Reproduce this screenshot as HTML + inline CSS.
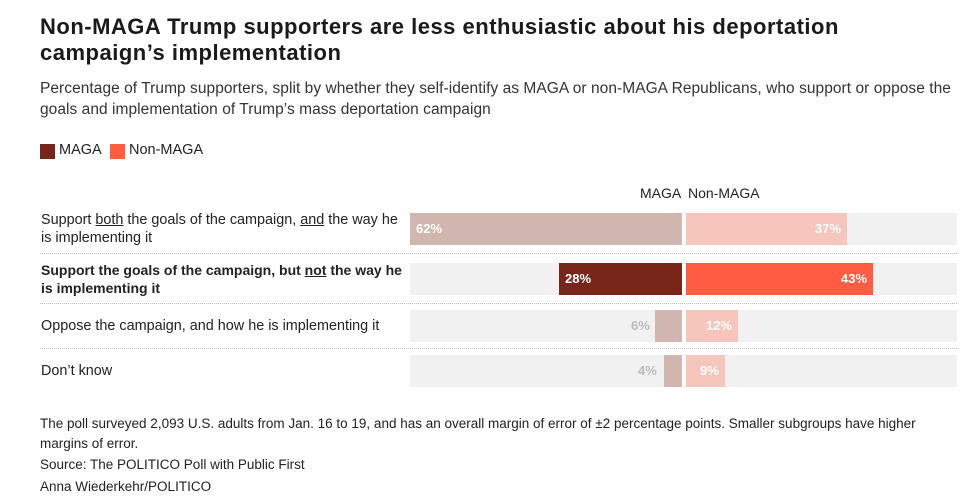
<!DOCTYPE html>
<html><head><meta charset="utf-8"><style>
body{margin:0;background:#fff;font-family:"Liberation Sans",sans-serif;color:#222;width:972px;height:500px;overflow:hidden;position:relative}
.a{position:absolute;white-space:nowrap}
h1{position:absolute;left:40px;top:14px;margin:0;font-size:22px;line-height:26px;font-weight:bold;color:#1a1a1a;letter-spacing:0.5px}
.sub{left:40px;top:78px;font-size:15.5px;line-height:21px;color:#333;letter-spacing:0.05px}
.lg{width:15px;height:15px;top:144px}
.lab{font-size:14.4px;line-height:18px;color:#222;left:41px}
.tr{position:absolute;background:#f1f1f1;height:32px}
.b{position:absolute;height:32px}
.v{position:absolute;font-size:13px;font-weight:bold;line-height:32px;color:#fff}
.dot{position:absolute;left:40px;width:917px;border-top:1px dotted #bbb;height:0}
.ft{left:40px;font-size:13.5px;line-height:20px;color:#222}
</style></head><body>
<h1>Non-MAGA Trump supporters are less enthusiastic about his deportation<br>campaign’s implementation</h1>
<div class="a sub">Percentage of Trump supporters, split by whether they self-identify as MAGA or non-MAGA Republicans, who support or oppose the<br>goals and implementation of Trump’s mass deportation campaign</div>
<div class="a lg" style="left:40px;background:#79261a"></div>
<div class="a" style="left:59px;top:142px;font-size:14.5px">MAGA</div>
<div class="a lg" style="left:110px;background:#ff5c42"></div>
<div class="a" style="left:129px;top:142px;font-size:14.5px">Non-MAGA</div>
<div class="a" style="left:640px;top:185px;font-size:14px">MAGA</div>
<div class="a" style="left:688px;top:185px;font-size:14px">Non-MAGA</div>

<div class="a lab" style="top:211px">Support <u>both</u> the goals of the campaign, <u>and</u> the way he<br>is implementing it</div>
<div class="a lab" style="top:261px;font-weight:bold;font-size:14px">Support the goals of the campaign, but <u>not</u> the way he<br>is implementing it</div>
<div class="a lab" style="top:317px">Oppose the campaign, and how he is implementing it</div>
<div class="a lab" style="top:362px">Don’t know</div>
<div class="dot" style="top:253px"></div>
<div class="dot" style="top:303px"></div>
<div class="dot" style="top:348px"></div>

<div class="tr" style="left:410px;width:272px;top:213px"></div><div class="tr" style="left:686px;width:271px;top:213px"></div>
<div class="tr" style="left:410px;width:272px;top:263px"></div><div class="tr" style="left:686px;width:271px;top:263px"></div>
<div class="tr" style="left:410px;width:272px;top:310px"></div><div class="tr" style="left:686px;width:271px;top:310px"></div>
<div class="tr" style="left:410px;width:272px;top:355px"></div><div class="tr" style="left:686px;width:271px;top:355px"></div>

<div class="b" style="left:410px;width:272px;top:213px;background:#d1b5af"></div>
<div class="v" style="left:416px;top:213px">62%</div>
<div class="b" style="left:686px;width:161px;top:213px;background:#f6c6bc"></div>
<div class="v" style="left:815px;top:213px">37%</div>

<div class="b" style="left:559px;width:123px;top:263px;background:#79261a"></div>
<div class="v" style="left:565px;top:263px">28%</div>
<div class="b" style="left:686px;width:187px;top:263px;background:#ff5c42"></div>
<div class="v" style="left:841px;top:263px">43%</div>

<div class="b" style="left:655px;width:27px;top:310px;background:#d1b5af"></div>
<div class="v" style="left:631px;top:310px;color:#bbb">6%</div>
<div class="b" style="left:686px;width:52px;top:310px;background:#f6c6bc"></div>
<div class="v" style="left:706px;top:310px">12%</div>

<div class="b" style="left:664px;width:18px;top:355px;background:#d1b5af"></div>
<div class="v" style="left:638px;top:355px;color:#bbb">4%</div>
<div class="b" style="left:686px;width:39px;top:355px;background:#f6c6bc"></div>
<div class="v" style="left:700px;top:355px">9%</div>

<div class="a ft" style="top:414px">The poll surveyed 2,093 U.S. adults from Jan. 16 to 19, and has an overall margin of error of ±2 percentage points. Smaller subgroups have higher<br>margins of error.</div>
<div class="a ft" style="top:455px">Source: The POLITICO Poll with Public First</div>
<div class="a ft" style="top:477px">Anna Wiederkehr/POLITICO</div>
</body></html>
